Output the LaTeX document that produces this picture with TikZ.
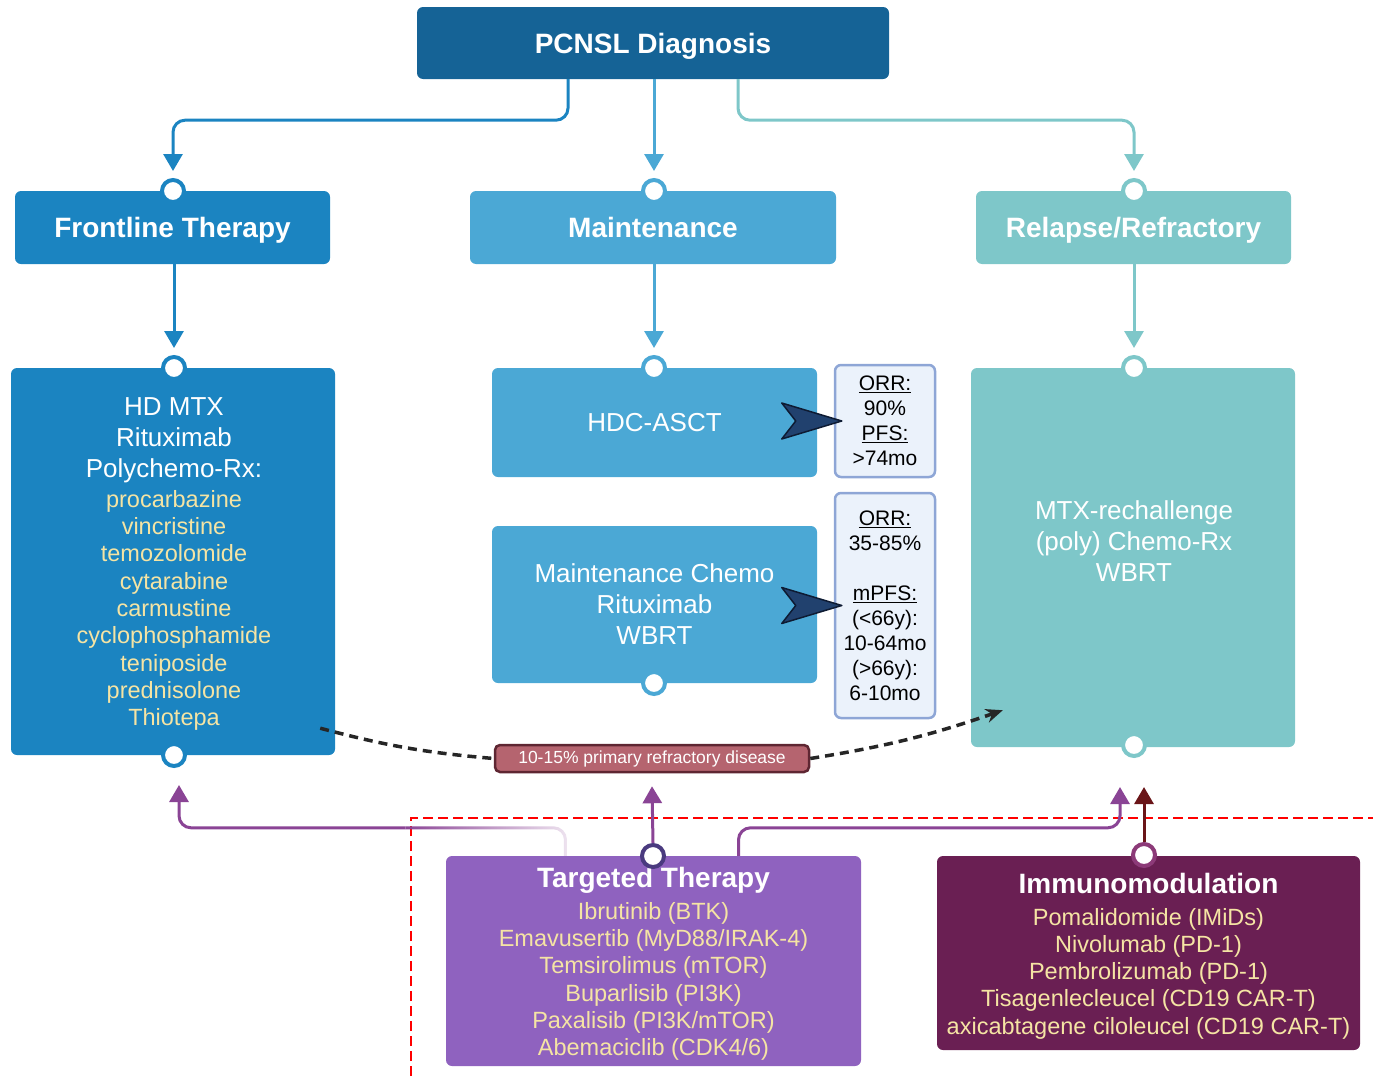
\documentclass[tikz,border=0pt]{standalone}
\usepackage{fontspec}
\setmainfont{Liberation Sans}
\usetikzlibrary{arrows.meta,calc,fadings}
\definecolor{diagcolor}{RGB}{21,99,150}
\definecolor{frontcolor}{RGB}{27,132,193}
\definecolor{maintcolor}{RGB}{75,168,213}
\definecolor{relapsecolor}{RGB}{126,199,201}
\definecolor{drugcolor}{RGB}{245,228,164}
\definecolor{orrfill}{RGB}{235,242,251}
\definecolor{orrborder}{RGB}{142,166,214}
\definecolor{navyfill}{RGB}{33,65,110}
\definecolor{navyedge}{RGB}{14,27,51}
\definecolor{refrfill}{RGB}{181,100,111}
\definecolor{refredge}{RGB}{94,38,50}
\definecolor{targetcolor}{RGB}{143,98,191}
\definecolor{targetring}{RGB}{74,58,127}
\definecolor{purplecolor}{RGB}{138,68,149}
\definecolor{immunocolor}{RGB}{106,31,83}
\definecolor{immunoring}{RGB}{140,58,120}
\definecolor{immunoarrow}{RGB}{106,21,24}
\newcommand{\ringsize}{22pt}
\newcommand{\ringwidth}{4pt}
\newcommand{\fsz}[2]{\fontsize{#1}{#2}\selectfont}
\newcommand{\drug}[1]{\textcolor{drugcolor}{#1}}
\tikzfading[name=fadeleft, left color=transparent!0, right color=transparent!85]

\begin{document}
\begin{tikzpicture}[x=1pt,y=-1pt,
  box/.style={rounded corners=6pt, inner sep=0pt, text=white, align=center},
  title/.style={box, font=\bfseries\fsz{28}{34}, text height=26pt, text depth=6pt},
  port/.style={circle, fill=white, draw=#1, line width=\ringwidth, minimum size=\ringsize, inner sep=0pt},
  flow/.style={line width=3pt, rounded corners=12pt, shorten >=7pt, -{Triangle[width=19pt,length=17pt]}},
  upflow/.style={line width=3pt, rounded corners=12pt, -{Triangle[width=19pt,length=17pt]}},
  orr/.style={rounded corners=6pt, fill=orrfill, draw=orrborder, line width=2.5pt, inner sep=0pt, align=center, font=\fsz{21}{25}},
  navy/.style={fill=navyfill, draw=navyedge, line width=1.5pt, line join=round},
  refr/.style={line width=3.5pt, black!85, dash pattern=on 9pt off 6pt},
]
\useasboundingbox (0,0) rectangle (1373,1076);
%top
\node[title, fill=diagcolor, minimum width=472pt, minimum height=72pt] (diag) at (653,43) {PCNSL Diagnosis};
\node[title, fill=frontcolor, minimum width=315pt, minimum height=73pt] (front) at (172.5,227.5) {Frontline Therapy};
\node[title, fill=maintcolor, minimum width=366pt, minimum height=73pt] (maint) at (653,227.5) {Maintenance};
\node[title, fill=relapsecolor, minimum width=315pt, minimum height=73pt] (relapse) at (1133.5,227.5) {Relapse/Refractory};
%therapies
\node[box, fill=frontcolor, minimum width=324pt, minimum height=387pt] (hdmtx) at (173,561.5) {};
\node[box, font=\fsz{23.5}{27.3}] (hdmtxtext) at (174,564)
  {{\fsz{26}{31}HD MTX}\\[3.7pt]{\fsz{26}{31}Rituximab}\\[3.7pt]{\fsz{26}{31}Polychemo-Rx:}\\[2.7pt]
   \drug{procarbazine}\\\drug{vincristine}\\\drug{temozolomide}\\\drug{cytarabine}\\\drug{carmustine}\\
   \drug{cyclophosphamide}\\\drug{teniposide}\\\drug{prednisolone}\\\drug{Thiotepa}};
\node[box, fill=maintcolor, minimum width=325pt, minimum height=109pt, font=\fsz{26}{31}] (hdc) at (654.5,422.5) {HDC-ASCT};
\node[box, fill=maintcolor, minimum width=325pt, minimum height=157pt, font=\fsz{26}{31}] (chemo) at (654.5,604.5)
  {Maintenance Chemo\\Rituximab\\WBRT};
\node[orr, minimum width=100pt, minimum height=112pt] (orr1) at (885,421)
  {\underline{ORR:}\\90\%\\\underline{PFS:}\\>74mo};
\node[orr, minimum width=100pt, minimum height=225pt] (orr2) at (885,605.5)
  {\underline{ORR:}\\35-85\%\\[25pt]\underline{mPFS:}\\(<66y):\\10-64mo\\(>66y):\\6-10mo};
\node[box, fill=relapsecolor, minimum width=324pt, minimum height=379pt] (rr) at (1133,557.5) {};
\node[box, font=\fsz{26}{31}] (rrtext) at (1134,541) {MTX-rechallenge\\(poly) Chemo-Rx\\WBRT};
\node[fill=refrfill, draw=refredge, line width=2.5pt, rounded corners=5pt, text=white, font=\fsz{17.5}{20},
  minimum width=314pt, minimum height=27pt, inner sep=0pt] (refr) at (652,758.5) {10-15\% primary refractory disease};
%bottom
\node[box, fill=targetcolor, minimum width=415pt, minimum height=210pt] (target) at (653.5,961) {};
\node[box, font=\fsz{23.5}{27.3}] (targettext) at (653.5,964)
  {{\bfseries\fsz{28}{34}Targeted Therapy}\\[4.5pt]\drug{Ibrutinib (BTK)}\\\drug{Emavusertib (MyD88/IRAK-4)}\\
   \drug{Temsirolimus (mTOR)}\\\drug{Buparlisib (PI3K)}\\\drug{Paxalisib (PI3K/mTOR)}\\\drug{Abemaciclib (CDK4/6)}};
\node[box, fill=immunocolor, minimum width=423pt, minimum height=194pt] (immuno) at (1148.5,953) {};
\node[box, font=\fsz{23.5}{27.3}] (immunotext) at (1148.5,956)
  {{\bfseries\fsz{28}{34}Immunomodulation}\\[4.5pt]\drug{Pomalidomide (IMiDs)}\\\drug{Nivolumab (PD-1)}\\
   \drug{Pembrolizumab (PD-1)}\\\drug{Tisagenlecleucel (CD19 CAR-T)}\\\drug{axicabtagene ciloleucel (CD19 CAR-T)}};
%ports
\node[port=frontcolor] (pf) at (173,191) {};
\node[port=maintcolor] (pm) at (654,191) {};
\node[port=relapsecolor] (pr) at (1134,191) {};
\node[port=frontcolor] (p2) at (174,368) {};
\node[port=frontcolor] (p3) at (174,755) {};
\node[port=maintcolor] (p4) at (654,368) {};
\node[port=maintcolor] (p5) at (654,683) {};
\node[port=relapsecolor] (p6) at (1134,368) {};
\node[port=relapsecolor] (p7) at (1134,745) {};
\node[port=targetring] (p8) at (653,856) {};
\node[port=immunoring] (p9) at (1144,855) {};
%connectors
\draw[flow, frontcolor] ([xshift=-85pt]diag.south) -- ++(0,41) -| (pf.north);
\draw[flow, maintcolor] (diag.south -| pm.north) -- (pm.north);
\draw[flow, relapsecolor] ([xshift=85pt]diag.south) -- ++(0,41) -| (pr.north);
\draw[flow, frontcolor] (front.south -| p2.north) -- (p2.north);
\draw[flow, maintcolor] (maint.south -| p4.north) -- (p4.north);
\draw[flow, relapsecolor] (relapse.south -| p6.north) -- (p6.north);
\filldraw[navy] ([xshift=8pt]orr1.west) -- ++(-60,-18) -- ++(14,18) -- ++(-14,18) -- cycle;
\filldraw[navy] ([xshift=8pt]orr2.west) -- ++(-60,-18) -- ++(14,18) -- ++(-14,18) -- cycle;
%refractory
\draw[refr] ([xshift=-15pt,yshift=27pt]hdmtx.south east) to[bend right=5] (refr.west);
\draw[refr, -{Stealth[length=17pt,width=14pt]}] (refr.east) to[bend right=5] ([xshift=32pt,yshift=37pt]rr.south west);
\draw[red, line width=2pt, dash pattern=on 10pt off 5pt] (411,1076) -- (411,818) -- (1373,818);
%bottom arrows
\draw[line width=3pt, purplecolor, rounded corners=12pt, path fading=fadeleft] ([xshift=-88pt]target.north) -- ++(0,-28) -- ++(-160,0);
\draw[upflow, purplecolor] ([xshift=-248pt,yshift=28pt]target.north) -| ([xshift=5pt,yshift=-17pt]p3.south);
\draw[upflow, purplecolor] (p8.north) -- ([yshift=-13pt]refr.south);
\draw[upflow, purplecolor] ([xshift=85pt]target.north) -- ++(0,-28) -| ([xshift=-14pt,yshift=-29pt]p7.south);
\draw[upflow, immunoarrow] (p9.north) -- ([yshift=-29pt]p7.south -| p9.north);
\end{tikzpicture}
\end{document}
